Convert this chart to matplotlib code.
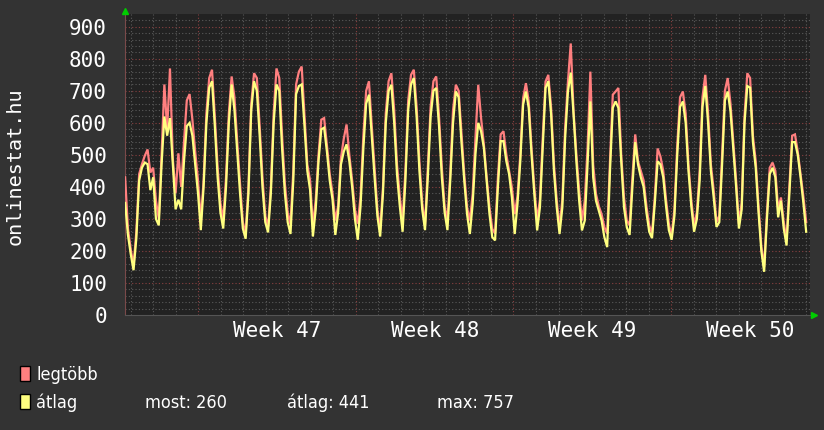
import numpy as np
import matplotlib
matplotlib.use('Agg')
import matplotlib.pyplot as plt
from matplotlib.ticker import FixedLocator
from matplotlib.patches import Rectangle

# ---- data (3-hourly samples, days since first midnight) ----
avg_start = [350, 250]
max_start = [430, 270]
avg_days = [
    [190, 140, 240, 420, 460, 476, 471, 390],
    [430, 300, 280, 470, 620, 560, 615, 470],
    [330, 360, 330, 480, 590, 600, 560, 470],
    [380, 265, 400, 600, 710, 730, 590, 430],
    [320, 270, 400, 600, 720, 640, 510, 380],
    [270, 238, 380, 640, 730, 700, 560, 400],
    [290, 258, 380, 600, 720, 700, 520, 380],
    [290, 253, 420, 690, 715, 720, 590, 450],
    [390, 245, 330, 480, 580, 585, 510, 420],
    [360, 250, 320, 470, 510, 533, 480, 400],
    [300, 235, 340, 520, 660, 688, 560, 430],
    [310, 245, 380, 600, 700, 719, 600, 440],
    [340, 260, 420, 640, 720, 740, 620, 450],
    [330, 265, 430, 620, 700, 709, 590, 430],
    [320, 265, 420, 600, 698, 680, 540, 420],
    [315, 253, 347, 502, 600, 574, 522, 419],
    [315, 243, 233, 398, 543, 543, 481, 440],
    [367, 253, 347, 481, 657, 698, 647, 502],
    [378, 264, 336, 522, 709, 730, 626, 450],
    [336, 253, 336, 553, 698, 757, 626, 481],
    [357, 264, 295, 471, 667, 430, 357, 326],
    [295, 243, 212, 450, 647, 667, 647, 481],
    [336, 274, 250, 400, 540, 470, 430, 400],
    [320, 260, 240, 350, 480, 470, 430, 340],
    [265, 235, 310, 500, 650, 667, 600, 450],
    [340, 260, 300, 420, 650, 715, 600, 450],
    [367, 275, 290, 470, 670, 698, 636, 520],
    [400, 270, 330, 600, 715, 710, 540, 460],
    [320, 200, 135, 300, 440, 460, 430, 305],
    [357, 270, 217, 378, 540, 540, 500, 430],
]
max_days = [
    [205, 155, 260, 440, 471, 497, 517, 445],
    [460, 357, 300, 500, 720, 580, 770, 490],
    [380, 505, 400, 540, 670, 690, 610, 510],
    [420, 295, 420, 630, 740, 766, 620, 460],
    [350, 295, 430, 630, 745, 680, 540, 410],
    [290, 254, 400, 660, 755, 740, 590, 430],
    [310, 275, 400, 630, 770, 740, 560, 410],
    [320, 284, 450, 720, 760, 776, 620, 470],
    [420, 275, 360, 500, 610, 615, 530, 440],
    [380, 295, 340, 490, 550, 595, 500, 420],
    [330, 285, 370, 560, 700, 730, 590, 460],
    [330, 265, 400, 630, 730, 755, 640, 470],
    [370, 295, 450, 670, 750, 766, 650, 480],
    [350, 280, 460, 650, 730, 745, 620, 460],
    [340, 295, 440, 640, 719, 700, 570, 440],
    [336, 295, 378, 553, 719, 615, 533, 429],
    [336, 269, 254, 429, 564, 574, 502, 450],
    [398, 315, 370, 502, 677, 724, 667, 522],
    [398, 295, 360, 553, 729, 750, 647, 471],
    [357, 274, 360, 585, 729, 848, 636, 502],
    [388, 295, 357, 522, 760, 470, 378, 340],
    [315, 274, 254, 481, 688, 698, 709, 502],
    [367, 295, 280, 430, 564, 480, 450, 420],
    [340, 280, 255, 370, 520, 495, 450, 360],
    [285, 245, 330, 530, 680, 698, 630, 470],
    [360, 280, 320, 450, 680, 750, 630, 470],
    [390, 290, 310, 500, 700, 740, 660, 540],
    [420, 285, 350, 620, 755, 740, 560, 480],
    [340, 215, 150, 320, 460, 476, 450, 330],
    [367, 290, 233, 400, 560, 564, 510, 440],
]
avg_end = [350, 260]
max_end = [370, 290]

week_labels = ['Week 47', 'Week 48', 'Week 49', 'Week 50']
week_starts = [3, 10, 17, 24]
y_ticks = [0, 100, 200, 300, 400, 500, 600, 700, 800, 900]

series_names = ['legtöbb', 'átlag']
stats_text = ['most: 260', 'átlag: 441', 'max: 757']

avg = np.array(avg_start + [v for d in avg_days for v in d] + avg_end, float)
mx = np.array(max_start + [v for d in max_days for v in d] + max_end, float)
t = np.linspace(-0.25, 30.0, len(avg))

# ---- style ----
FIG_BG = '#333333'
AX_BG = '#222222'
RED = '#ff7f7f'
YEL = '#ffff80'
TXT = '#ffffff'
MONO = ['DejaVu Sans Mono']

fig = plt.figure(figsize=(8.24, 4.30), dpi=100, facecolor=FIG_BG)
W, H = 824, 430
ax = fig.add_axes([125 / W, 115 / H, 685 / W, 301 / H])
ax.set_facecolor(AX_BG)

ax.set_xlim(-0.256, 30.17)
ax.set_ylim(0, 940)

# grid
for v in range(20, 940, 20):
    if v % 100 == 0:
        continue
    ax.axhline(v, color='#5a5a5a', lw=0.8, ls=(0, (1, 2)), zorder=1)
for v in y_ticks[1:]:
    ax.axhline(v, color='#8a4040', lw=0.8, ls=(0, (1, 2)), zorder=1)
for d in range(0, 31):
    if d in week_starts:
        ax.axvline(d, color='#8a4040', lw=0.8, ls=(0, (1, 2)), zorder=1)
    else:
        ax.axvline(d, color='#5a5a5a', lw=0.8, ls=(0, (1, 2)), zorder=1)

ax.plot(t, mx, color=RED, lw=1.6, zorder=3, solid_joinstyle='miter')
ax.plot(t, avg, color=YEL, lw=1.6, zorder=4, solid_joinstyle='miter')

for s in ['top', 'right']:
    ax.spines[s].set_visible(False)
ax.spines['left'].set_color('#7a4a4a')
ax.spines['bottom'].set_color('#555555')
ax.spines['left'].set_linewidth(0.8)
ax.spines['bottom'].set_linewidth(0.8)

ax.yaxis.set_major_locator(FixedLocator(y_ticks))
ax.set_yticklabels([str(v) for v in y_ticks], family=MONO, fontsize=15, color=TXT)
ax.tick_params(axis='y', length=0, pad=13)

week_mid = [w + 3.5 for w in week_starts]
ax.xaxis.set_major_locator(FixedLocator(week_mid))
ax.set_xticklabels(week_labels, family=MONO, fontsize=15, color=TXT)
ax.tick_params(axis='x', length=0, pad=4)

fig.text(15 / W, 1 - 166 / H, 'onlinestat.hu', rotation=90, ha='center', va='center',
         family=MONO, fontsize=14.5, color=TXT)

# arrows
fig.add_artist(plt.Line2D([125 / W], [1 - 11 / H], marker='^', color='#00cc00',
                          markersize=5, transform=fig.transFigure))
fig.add_artist(plt.Line2D([814 / W], [1 - 315 / H], marker='>', color='#00cc00',
                          markersize=5, transform=fig.transFigure))

# legend
for i, (name, col) in enumerate(zip(series_names, [RED, YEL])):
    ytop = 366 + i * 28
    fig.add_artist(Rectangle((20 / W, 1 - (ytop + 15) / H), 10 / W, 15 / H,
                             transform=fig.transFigure, facecolor=col,
                             edgecolor='black', lw=1))
    fig.text(36 / W, 1 - (ytop + 14.5) / H, name, family='DejaVu Sans',
             fontstretch='condensed', fontsize=13, color=TXT, va='baseline', ha='left')
for txt, x in zip(stats_text, [145, 287, 437]):
    fig.text(x / W, 1 - 408.5 / H, txt, family='DejaVu Sans',
             fontstretch='condensed', fontsize=13, color=TXT, va='baseline', ha='left')

fig.savefig('out.png', dpi=100, facecolor=FIG_BG)
